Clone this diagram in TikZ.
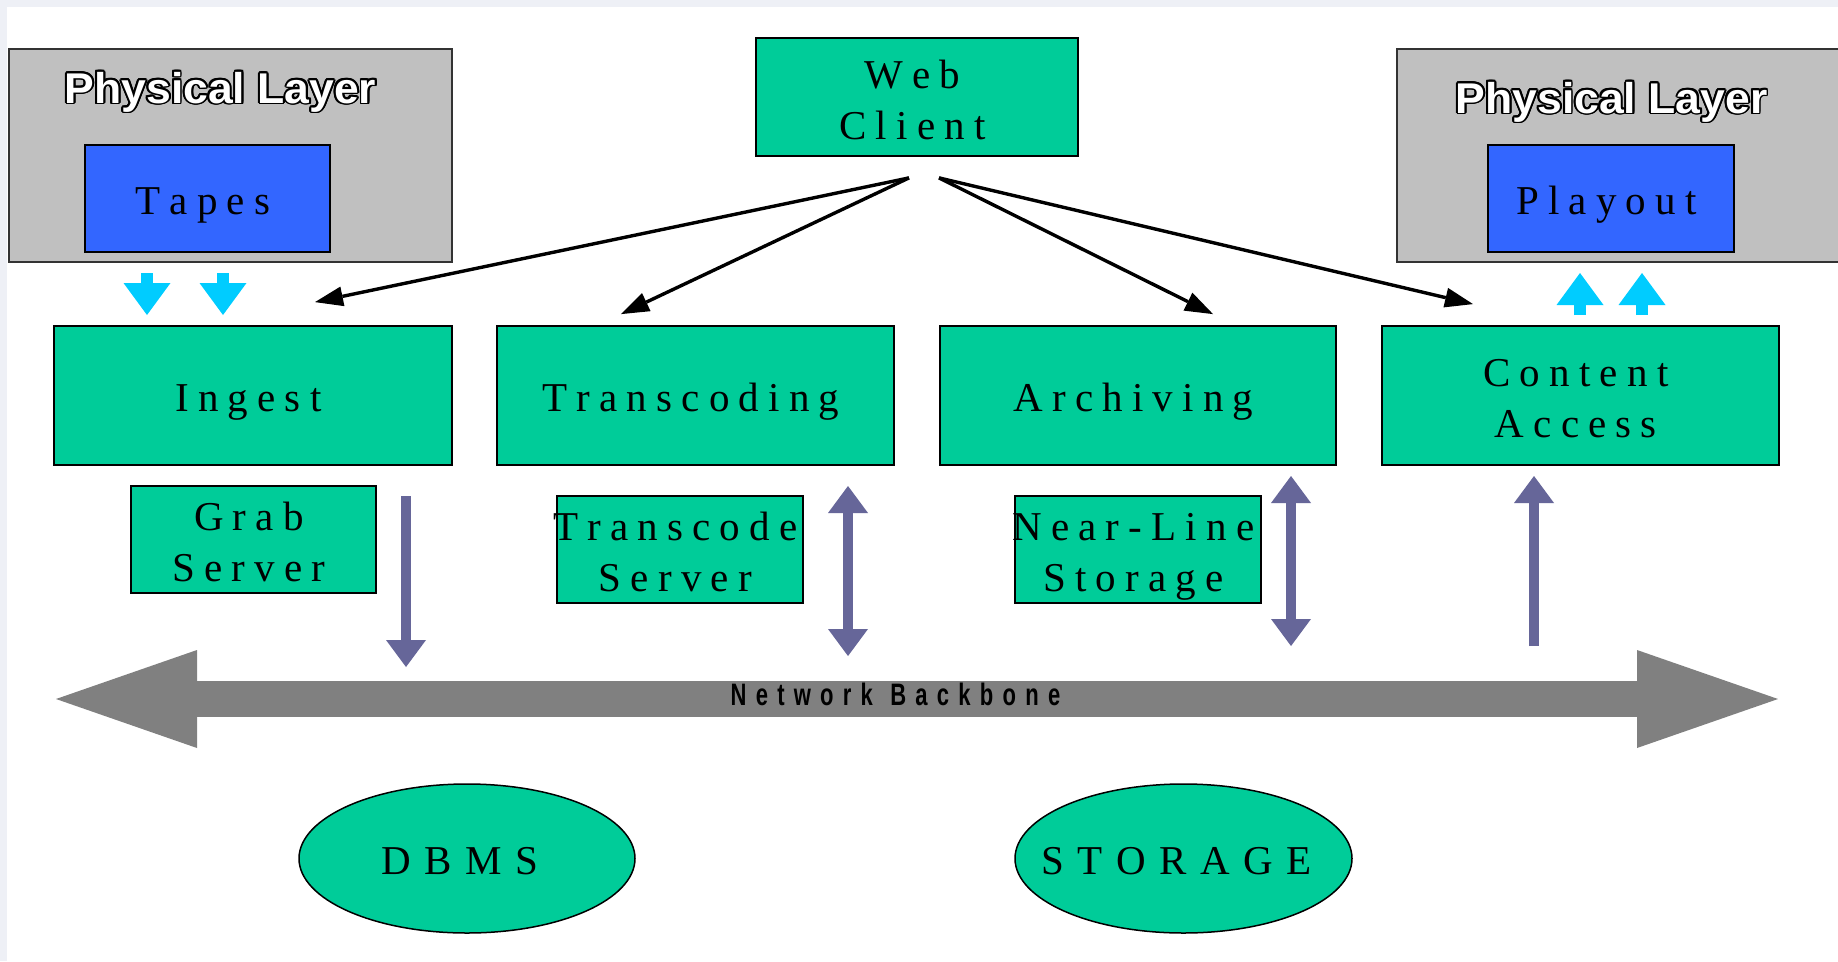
\documentclass[tikz,border=0pt]{standalone}
\usepackage{fontspec}
\usepackage{graphicx}
\setmainfont{Liberation Serif}
\setsansfont{Liberation Sans}
\newfontfamily\lblserif[LetterSpace=22.4,Kerning=Off]{Liberation Serif}
\newfontfamily\lblovalserif[LetterSpace=33,Kerning=Off]{Liberation Serif}
\newfontfamily\lblnetsans[LetterSpace=42]{Liberation Sans}
\usetikzlibrary{arrows.meta,shapes.geometric,calc}

\definecolor{boxgreen}{HTML}{00CC99}
\definecolor{boxblue}{HTML}{3366FF}
\definecolor{boxgray}{HTML}{C0C0C0}
\definecolor{busgray}{HTML}{808080}
\definecolor{linkpurple}{HTML}{666699}
\definecolor{feedcyan}{HTML}{00CCFF}
\definecolor{edgetint}{HTML}{EEF0F6}

\newcommand\boxlabelfont{\lblserif\fontsize{41}{51}\selectfont}
\newcommand\ovallabelfont{\lblovalserif\fontsize{41}{51}\selectfont}
% trailing tracking, so spaced words sit like the rest of the slide text
\newcommand\tk{\kern0.224em}
\newcommand\tkw{\kern0.33em}
% two centred lines, baseline of the box on the first line; the text is
% centred on a zero-width box so that it never widens its frame
\newcommand\twolines[2]{\makebox[0pt]{\vtop{\halign{\hfil##\hfil\cr #1\tk\cr #2\tk\cr}}}}

% white lettering with a thin black rim: dark copies around, white copy on top
\newcommand\outlinedlabel[3]{%
  \foreach \ang in {0,22.5,...,337.5}
    \node[physlabel,text=black] at ([shift={(\ang:1.9pt)}]#2) {#3};
  \node[physlabel,text=white] (#1) at (#2) {#3};
}

\begin{document}
\begin{tikzpicture}[x=1pt,y=-1pt,
  greenbox/.style={draw=black, line width=1.8pt, fill=boxgreen, inner sep=0pt,
    font=\boxlabelfont},
  oneline/.style={text height=31pt, text depth=0pt},
  twoline/.style={text height=31pt, text depth=49pt},
  bluebox/.style={draw=black, line width=1.8pt, fill=boxblue, inner sep=0pt,
    font=\boxlabelfont, text height=31pt, text depth=0pt,
    minimum width=245pt, minimum height=107pt},
  physbox/.style={draw=black!80, line width=1.5pt, fill=boxgray, inner sep=0pt,
    minimum height=213pt},
  oval/.style={ellipse, draw=black, line width=1.5pt, fill=boxgreen, inner sep=0pt,
    minimum width=336pt, minimum height=149pt},
  ovaltext/.style={inner sep=0pt, font=\ovallabelfont,
    text height=31pt, text depth=0pt},
  physlabel/.style={anchor=base, inner sep=0pt,
    font=\sffamily\bfseries\fontsize{43}{43}\selectfont},
  netlabel/.style={anchor=base, inner sep=0pt, text=black,
    font=\lblnetsans\bfseries\fontsize{31}{31}\selectfont},
  request/.style={draw=black, line width=3.4pt,
    -{Triangle[length=28pt,width=20pt,line width=0pt]}},
  feed/.style={draw=feedcyan, line width=12pt,
    -{Triangle[length=32pt,width=47pt,line width=0pt]}},
  link/.style={draw=linkpurple, line width=10pt,
    -{Triangle[length=27pt,width=40pt,line width=0pt]}},
  duplex/.style={draw=linkpurple, line width=10pt,
    {Triangle[length=27pt,width=40pt,line width=0pt]}-{Triangle[length=27pt,width=40pt,line width=0pt]}},
  backbone/.style={draw=busgray, line width=36pt,
    {Triangle[length=141pt,width=98pt,line width=0pt]}-{Triangle[length=141pt,width=98pt,line width=0pt]}}
]
\useasboundingbox (0,0) rectangle (1838,961);
\fill[white] (0,0) rectangle (1838,961);
\fill[edgetint] (0,0) rectangle (1838,7);
\fill[edgetint] (0,0) rectangle (7,961);

% physical layers with their media
\node[physbox, minimum width=443pt] (physL) at (230.5,155.5) {};
\node[physbox, minimum width=463pt] (physR) at (1628.5,155.5) {};
\coordinate (physLtxt) at (220.5,103);
\coordinate (physRtxt) at (1611.5,113);
\outlinedlabel{physLlabel}{physLtxt}{\scalebox{1.035}[1]{Physical Layer}}
\outlinedlabel{physRlabel}{physRtxt}{\scalebox{1.035}[1]{Physical Layer}}
\node[bluebox] (tapes) at (207.5,198.5) {Tapes\tk};
\node[bluebox, minimum width=246pt] (playout) at (1611,198.5) {Playout\tk};

% client
\node[greenbox, twoline, minimum width=322pt, minimum height=118pt] (web) at (917,97) {\twolines{Web}{Client}};

% services
\node[greenbox, oneline, minimum width=398pt, minimum height=139pt] (ingest) at (253,395.5) {Ingest\tk};
\node[greenbox, oneline, minimum width=397pt, minimum height=139pt] (transcoding) at (695.5,395.5) {Transcoding\tk};
\node[greenbox, oneline, minimum width=396pt, minimum height=139pt] (archiving) at (1138,395.5) {Archiving\tk};
\node[greenbox, twoline, minimum width=397pt, minimum height=139pt] (content) at (1580.5,395.5) {\twolines{Content}{Access}};

% servers
\node[greenbox, twoline, minimum width=245pt, minimum height=107pt] (grab) at (253.5,539.5) {\twolines{Grab}{Server}};
\node[greenbox, twoline, minimum width=245.5pt, minimum height=107pt] (tcserver) at (680,549.5) {\twolines{Transcode}{Server}};
\node[greenbox, twoline, minimum width=246pt, minimum height=107pt] (nearline) at (1138,549.5) {\twolines{Near-Line}{Storage}};

% stores
\node[oval, label={[ovaltext]center:DBMS\tkw}] (dbms) at (467,858.5) {};
\node[oval, minimum width=337pt, label={[ovaltext]center:STORAGE\tkw}] (storage) at (1183.5,858.5) {};

% requests fanning out from the client
\coordinate (webL) at ($(web.south)+(-8,21)$);
\coordinate (webR) at ($(web.south)+(22,21)$);
\coordinate (toIngest) at ($(ingest.north)+(62,-23)$);
\coordinate (toTranscoding) at ($(transcoding.north)+(-74.5,-11)$);
\coordinate (toArchiving) at ($(archiving.north)+(75,-11)$);
\coordinate (toContent) at ($(content.north)+(-107.5,-21)$);
\draw[request] (webL) -- (toIngest);
\draw[request] (webL) -- (toTranscoding);
\draw[request] (webR) -- (toArchiving);
\draw[request] (webR) -- (toContent);

% media feeds
\coordinate (tapeA) at (147,273);  \coordinate (ingA) at (147,315);
\coordinate (tapeB) at (223,273);  \coordinate (ingB) at (223,315);
\coordinate (contA) at (1580,315); \coordinate (playA) at (1580,273);
\coordinate (contB) at (1642,315); \coordinate (playB) at (1642,273);
\draw[feed] (tapeA) -- (ingA);
\draw[feed] (tapeB) -- (ingB);
\draw[feed] (contA) -- (playA);
\draw[feed] (contB) -- (playB);

% network backbone
\coordinate (busL) at (56,699);
\coordinate (busR) at (1778,699);
\draw[backbone] (busL) -- node[netlabel, pos=0.4875, yshift=-6pt]
  {\scalebox{0.71}[1]{Network\kern0.79em Backbone}} (busR);

% links to the backbone
\coordinate (grabTop) at (406,496);   \coordinate (grabBus) at (406,667);
\coordinate (tcTop) at (848,486);     \coordinate (tcBus) at (848,656);
\coordinate (nlTop) at (1291,476);    \coordinate (nlBus) at (1291,646);
\coordinate (caBus) at (1534,646);    \coordinate (caTop) at (1534,476);
\draw[link] (grabTop) -- (grabBus);
\draw[duplex] (tcTop) -- (tcBus);
\draw[duplex] (nlTop) -- (nlBus);
\draw[link] (caBus) -- (caTop);
\end{tikzpicture}
\end{document}
